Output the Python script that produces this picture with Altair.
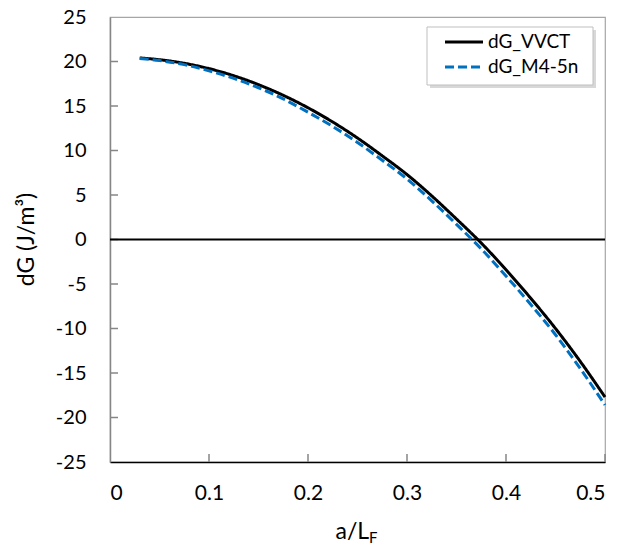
import altair as alt
import pandas as pd

# ---- data ----
a_vals = [0.03, 0.05, 0.075, 0.1, 0.125, 0.15, 0.175, 0.2, 0.225, 0.25,
          0.275, 0.3, 0.325, 0.35, 0.375, 0.4, 0.425, 0.45, 0.475, 0.5]
dg_vvct = [20.4, 20.2, 19.8, 19.2, 18.4, 17.4, 16.2, 14.8, 13.2, 11.4,
           9.4, 7.3, 4.9, 2.3, -0.4, -3.4, -6.6, -10.0, -13.7, -17.7]
dg_m45n = [20.35, 20.1, 19.65, 18.95, 18.1, 17.05, 15.8, 14.3, 12.7, 10.9,
           8.9, 6.8, 4.35, 1.7, -1.05, -4.1, -7.3, -10.7, -14.5, -18.6]
series_names = ["dG_VVCT", "dG_M4-5n"]
x_ticks = [0, 0.1, 0.2, 0.3, 0.4, 0.5]
y_ticks = [-25, -20, -15, -10, -5, 0, 5, 10, 15, 20, 25]

rows = []
for a, v in zip(a_vals, dg_vvct):
    rows.append({"a": a, "dG": v, "series": series_names[0]})
for a, v in zip(a_vals, dg_m45n):
    rows.append({"a": a, "dG": v, "series": series_names[1]})
df = pd.DataFrame(rows)

W, H = 495, 445
FONT = "Lato"

xscale = alt.Scale(domain=[0, 0.5], nice=False, zero=False)
yscale = alt.Scale(domain=[-25, 25], nice=False, zero=False)

legend = alt.Legend(
    orient="none", legendX=343, legendY=14, title=None, padding=0,
    symbolType="M-2,0L2,0", symbolSize=361, symbolStrokeWidth=3,
    symbolOffset=0, labelFontSize=19, labelFont=FONT, labelColor="black",
    labelOffset=13, rowPadding=4,
)

lines = alt.Chart(df).mark_line(strokeWidth=3, interpolate="monotone").encode(
    x=alt.X("a:Q", scale=xscale,
            axis=alt.Axis(values=x_ticks, labelExpr="'' + datum.value",
                          grid=False, ticks=False, labelPadding=20,
                          labelFontSize=21, labelFont=FONT, labelColor="black",
                          domainColor="black", domainWidth=1.5,
                          title="a/L", titleFont=FONT, titleFontSize=23,
                          titleFontWeight="normal", titleColor="black",
                          titleAlign="left", titleX=225, titleY=76,
                          titleBaseline="alphabetic")),
    y=alt.Y("dG:Q", scale=yscale,
            axis=alt.Axis(values=y_ticks, labelExpr="'' + datum.value",
                          grid=False, ticks=False, labelPadding=24,
                          labelFontSize=20, labelFont=FONT, labelColor="black",
                          domainColor="#868686", domainWidth=1.5,
                          title="dG (J/m³)", titleFont=FONT, titleFontSize=23,
                          titleFontWeight="normal", titleColor="black",
                          titleX=-84, titleY=222, titleBaseline="middle")),
    color=alt.Color("series:N", scale=alt.Scale(domain=series_names,
                                                 range=["#000000", "#0070C0"]),
                    legend=legend),
    strokeDash=alt.StrokeDash("series:N",
                              scale=alt.Scale(domain=series_names,
                                              range=[[1, 0], [9, 4]]),
                              legend=legend),
)

zero = alt.Chart(pd.DataFrame({"y": [0]})).mark_rule(
    color="black", strokeWidth=2).encode(y=alt.Y("y:Q", scale=yscale))

xt = alt.Chart(pd.DataFrame({"t": x_ticks[1:]})).mark_rule(
    color="#868686", strokeWidth=1.5).encode(
    x=alt.X("t:Q", scale=xscale), y=alt.value(H - 8), y2=alt.value(H))

yt = alt.Chart(pd.DataFrame({"t": y_ticks[1:-1]})).mark_rule(
    color="#868686", strokeWidth=1.5).encode(
    y=alt.Y("t:Q", scale=yscale), x=alt.value(0), x2=alt.value(8))

box_df = pd.DataFrame({"k": [1]})
shadow = alt.Chart(box_df).mark_rect(color="#C8C8C8", opacity=0.7).encode(
    x=alt.value(320), x2=alt.value(486), y=alt.value(13), y2=alt.value(71))
box = alt.Chart(box_df).mark_rect(fill="white", stroke="#BFBFBF",
                                  strokeWidth=1).encode(
    x=alt.value(317), x2=alt.value(483), y=alt.value(10), y2=alt.value(68))

sub_f = alt.Chart(pd.DataFrame({"k": ["F"]})).mark_text(
    font=FONT, fontSize=15, align="left", baseline="alphabetic",
    color="black").encode(text="k:N", x=alt.value(259), y=alt.value(526))

chart = alt.layer(xt, yt, zero, lines, shadow, box, sub_f).properties(
    width=W, height=H,
    autosize=alt.AutoSizeParams(type="none"),
    padding={"left": 102, "top": 9, "right": 9, "bottom": 85},
).configure_view(stroke="#A6A6A6", strokeWidth=1.2).configure_axis(
    labelFont=FONT, titleFont=FONT)

chart.save("out.html", embed_options={"renderer": "svg", "actions": False})
